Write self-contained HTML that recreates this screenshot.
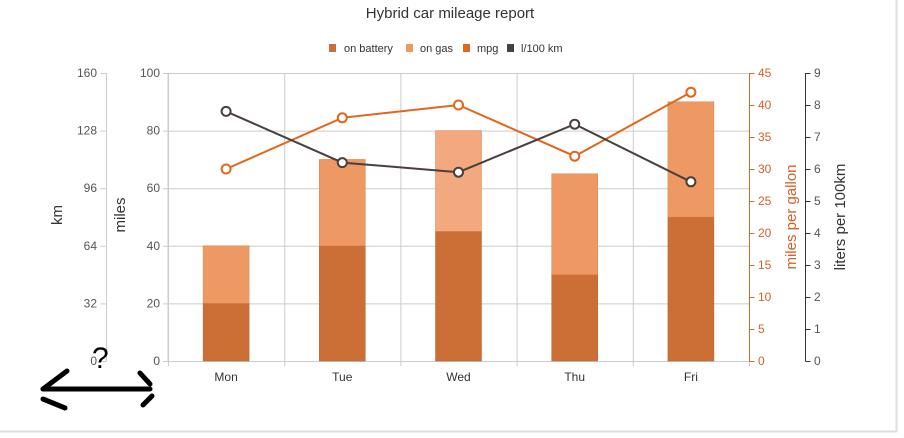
<!DOCTYPE html>
<html><head><meta charset="utf-8"><style>
body{margin:0;background:#fff}
svg text{font-family:"Liberation Sans",sans-serif}
</style></head><body>
<svg width="904" height="433" id="chart">
<rect x="0" y="0" width="896" height="431" fill="#fff"/>
<line x1="896.5" y1="0" x2="896.5" y2="432" stroke="#ddd" stroke-width="2"/>
<line x1="0" y1="431.5" x2="897" y2="431.5" stroke="#ddd" stroke-width="2"/>
<text x="450" y="18" text-anchor="middle" font-size="15" fill="#333">Hybrid car mileage report</text>
<g font-size="11" fill="#333">
<g><rect x="329" y="44" width="7" height="8" fill="#cc6f36"/><text x="344" y="52">on battery</text></g>
<g><rect x="406" y="44" width="7" height="8" fill="#ee9963"/><text x="420" y="52">on gas</text></g>
<g><rect x="463" y="44" width="7" height="8" fill="#e2661b"/><text x="477" y="52">mpg</text></g>
<g><rect x="507" y="44" width="7" height="8" fill="#4a3f3f"/><text x="521" y="52">l/100 km</text></g>
</g>
<g id="grid"></g><g id="bars"></g><g id="axes"></g><g id="lines"></g>
<text transform="translate(62,215) rotate(-90)" text-anchor="middle" font-size="15" fill="#333">km</text>
<text transform="translate(125,215) rotate(-90)" text-anchor="middle" font-size="15" fill="#333">miles</text>
<text transform="translate(796,217) rotate(-90)" text-anchor="middle" font-size="15" fill="#d5602a">miles per gallon</text>
<text transform="translate(845,217) rotate(-90)" text-anchor="middle" font-size="15" fill="#333">liters per 100km</text>
<text x="92" y="368" font-size="30" font-family="Liberation Serif,serif" fill="#000">?</text>
<g stroke="#000" stroke-width="5" stroke-linecap="round" fill="none">
<line x1="43" y1="389" x2="150" y2="389"/><line x1="43" y1="389" x2="67" y2="371"/><line x1="43" y1="399" x2="65" y2="408"/><line x1="140" y1="373" x2="150" y2="384"/><line x1="143" y1="405" x2="152" y2="396"/>
</g>
</svg>
<script>
const categories=["Mon","Tue","Wed","Thu","Fri"];
const onBattery=[20,40,45,30,50];
const onGas=[20,30,35,35,40];
const mpg=[30,38,40,32,42];
const l100=[7.8,6.2,5.9,7.4,5.6];
const milesTicks=[0,20,40,60,80,100];
const kmTicks=[0,32,64,96,128,160];
const mpgTicks=[0,5,10,15,20,25,30,35,40,45];
const lTicks=[0,1,2,3,4,5,6,7,8,9];
const NS="http://www.w3.org/2000/svg";
const X0=168,X1=749,Y0=361,Y1=73,H=Y0-Y1;
const bw=(X1-X0)/categories.length;
const xc=i=>X0+bw*(i+0.5);
const yMiles=v=>Y0-v/100*H, yKm=v=>Y0-v/160*H, yMpg=v=>Y0-v/45*H, yL=v=>Y0-v/9*H;
function mk(p,t,a){const e=document.createElementNS(NS,t);for(const k in a)e.setAttribute(k,a[k]);document.getElementById(p).appendChild(e);return e;}
// grid
milesTicks.forEach(t=>{const l=mk('grid','line',{x1:X0,x2:X1,y1:yMiles(t)+.5,y2:yMiles(t)+.5,stroke:'#ccc'});

});
for(let i=0;i<=categories.length;i++){const l=mk('grid','line',{x1:X0+bw*i+.5,x2:X0+bw*i+.5,y1:Y1,y2:Y0+5,stroke:'#ccc'});

}
// bars
categories.forEach((c,i)=>{
const b=mk('bars','rect',{x:xc(i)-23,width:46,y:yMiles(onBattery[i]),height:Y0-yMiles(onBattery[i]),fill:'#cc6f36',stroke:'#b9602c','stroke-width':.5});


const tot=onBattery[i]+onGas[i];
const g=mk('bars','rect',{x:xc(i)-23,width:46,y:yMiles(tot),height:yMiles(onBattery[i])-yMiles(tot),fill:i==2?'#f2a97f':'#ee9963',stroke:'#d9824c','stroke-width':.5});


const t=mk('axes','text',{x:xc(i),y:381,'text-anchor':'middle','font-size':12,fill:'#333'});t.textContent=c;


});
// axes
function axis(ticks,yf,lineX,tickDir,col,lineCol,name,labX,anchor){
const al=mk('axes','line',{x1:lineX,x2:lineX,y1:Y1,y2:Y0+0.5,stroke:lineCol});


ticks.forEach(t=>{const y=yf(t);
const tl=mk('axes','line',{x1:lineX,x2:lineX+tickDir,y1:y+.5,y2:y+.5,stroke:lineCol});


const tx=mk('axes','text',{x:labX,y:y+4,'text-anchor':anchor,'font-size':12,fill:col});tx.textContent=t;

});}
axis(kmTicks,yKm,106.5,-6,'#555','#ccc','km',97,'end');
axis(milesTicks,yMiles,168,-5,'#555','#ccc','miles',160,'end');
axis(mpgTicks,yMpg,749.5,5,'#d5602a','#e2661b','mpg',758,'start');
axis(lTicks,yL,805.5,5,'#555','#333','l100km',814,'start');
// lines
function series(vals,yf,col,name){
const pts=vals.map((v,i)=>xc(i)+','+yf(v)).join(' ');
const pl=mk('lines','polyline',{points:pts,fill:'none',stroke:col,'stroke-width':2});


vals.forEach((v,i)=>{const c=mk('lines','circle',{cx:xc(i),cy:yf(v),r:4.5,fill:'#fff',stroke:col,'stroke-width':2});

});}
series(mpg,yMpg,'#e2661b','mpg');
series(l100,yL,'#4a3f3f','l100km');
</script>
</body></html>
